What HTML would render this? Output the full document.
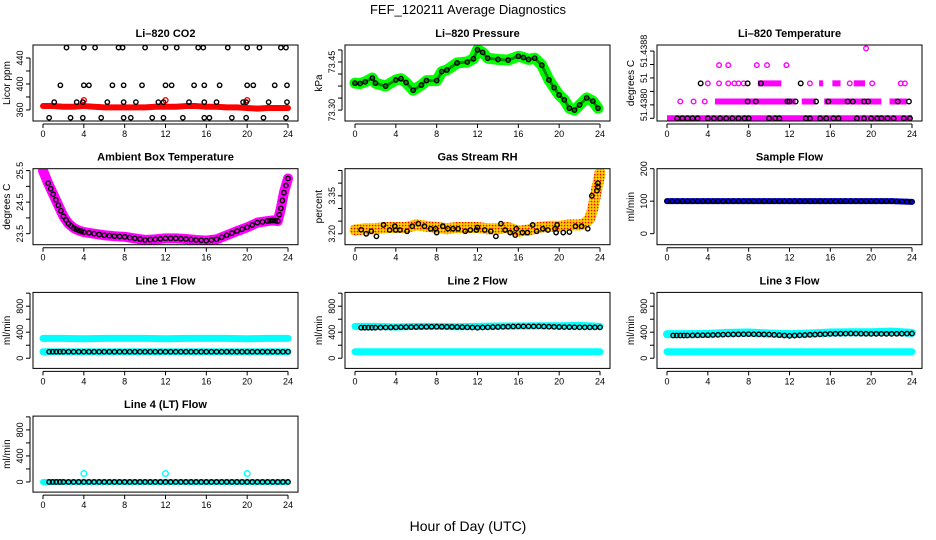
<!DOCTYPE html>
<html><head><meta charset="utf-8">
<style>
html,body{margin:0;padding:0;background:#fff}
svg{display:block;font-family:"Liberation Sans",sans-serif}
</style></head>
<body>
<svg id="chart" width="936" height="540" viewBox="0 0 936 540" xmlns="http://www.w3.org/2000/svg">
<text x="468" y="14" text-anchor="middle" font-size="13">FEF_120211  Average Diagnostics</text>
<text x="468" y="531" text-anchor="middle" font-size="14">Hour of Day (UTC)</text>
</svg>
<script>
const xTicks=[0,4,8,12,16,20,24];
// CO2
const co2Hours=[0,1,2,3,4,5,6,7,8,9,10,11,12,13,14,15,16,17,18,19,20,21,22,23,24];
const co2Red=[366,366,365,365,366,365,364,364,364,364,364,365,365,365,366,366,365,365,364,364,363,362,363,363,363];
const co2RedOut=[[4,375],[12,375],[20,375]];
const co2Black=[[2.3,456],[4,456],[5.1,456],[7.4,456],[7.8,456],[10,456],[12,456],[13.1,456],[15.2,456],[15.7,456],[18.1,456],[20,456],[21.2,456],[23.3,456],[23.8,456],
[1.7,398],[4,398],[4.5,398],[6.8,398],[7.9,398],[9.7,398],[12,398],[12.6,398],[14.8,398],[15.8,398],[17.3,398],[20,398],[20.6,398],[22.7,398],[23.9,398],
[1.1,372],[3.3,372],[3.9,372],[6.3,372],[7.9,372],[9.1,372],[11.3,372],[11.8,372],[14.3,372],[15.8,372],[17,372],[19.6,372],[19.9,372],[22.1,372],[23.9,372],
[0.6,348],[2.7,348],[3.9,348],[5.7,348],[7.9,348],[8.6,348],[10.7,348],[11.8,348],[13.7,348],[15.8,348],[16.3,348],[18.5,348],[19.9,348],[21.6,348],[23.8,348]];
const co2Ticks=[360,380,400,420,440];
const co2Labels=["360","","400","","440"];
// Pressure
const presHours=[0,0.5,1,1.7,2,3,4,4.5,5,5.7,6.5,7,8,8.5,9,10,11,11.6,12,12.5,13,14,15,16,16.5,17,17.6,18.3,19,19.5,20,20.5,21,21.5,22,22.7,23.3,23.8];
const presVals=[73.384,73.383,73.388,73.400,73.384,73.375,73.394,73.398,73.386,73.362,73.378,73.392,73.392,73.420,73.425,73.447,73.450,73.460,73.488,73.480,73.462,73.458,73.456,73.468,73.464,73.458,73.462,73.440,73.394,73.370,73.347,73.332,73.306,73.300,73.316,73.338,73.328,73.306];
const presTicks=[73.30,73.3375,73.375,73.4125,73.45,73.4875];
const presLabels=["73.30","","","","73.45",""];
// Li-820 temperature
const tLevels=[51.4378,51.43805,51.43832,51.43859,51.43884];
const tSegs=[[0,24,0],[4.7,12.6,1],[13.2,14.6,1],[15.4,21,1],[21.8,23.5,1],[8.9,11.2,2],[14.9,15.3,2],[16.2,17,2],[18.3,19.4,2]];
const tMag=[[1.3,1],[2.6,1],[3.7,1],[4,2],[5.1,2],[6,2],[6.6,2],[7,2],[7.5,2],[14,2],[17.9,2],[20.1,2],[22.9,2],[23.3,2],[5.1,3],[6,3],[8.8,3],[9.8,3],[11.7,3],[19.5,4]];
const tBlack=[[1,0],[1.5,0],[2,0],[2.5,0],[3,0],[4,0],[4.6,0],[5.2,0],[5.8,0],[6.4,0],[7,0],[7.6,0],[8,0],[10,0],[10.6,0],[11,0],[13.6,0],[14,0],[15,0],[15.6,0],[16.3,0],[16.8,0],[18.6,0],[19.3,0],[20,0],[20.6,0],[21,0],[21.6,0],[22.2,0],[23.2,0],[23.8,0],
[7.9,1],[8.7,1],[11.8,1],[12,1],[12.6,1],[14.6,1],[15.8,1],[17.7,1],[18.2,1],[19.3,1],[19.7,1],[22.6,1],[23.7,1],[3.3,2],[7.9,2],[9.2,2],[13.1,2]];
const tTicks=[51.4378,51.4380,51.4382,51.4384,51.4386,51.4388];
const tLabels=["","51.4380","","51","","51.4388"];
// Ambient box temp
const ambHours=[0,0.5,1,1.5,2,2.5,3,3.5,4,5,6,7,8,9,10,11,12,13,14,15,16,17,18,19,20,21,22,22.5,23,23.3,23.6,24];
const ambVals=[25.5,25.1,24.75,24.4,24.05,23.82,23.68,23.6,23.55,23.5,23.45,23.42,23.4,23.35,23.3,23.32,23.35,23.35,23.33,23.3,23.28,23.32,23.45,23.58,23.7,23.85,23.9,23.92,23.9,24.3,24.8,25.25];
const ambTicks=[23.5,24,24.5,25,25.5];
const ambLabels=["23.5","","24.5","","25.5"];
// Gas stream RH
const rhHours=[0,1,2,3,4,5,6,7,8,9,10,11,12,13,14,15,16,17,18,19,20,21,22,22.5,23,23.3,23.6,24];
const rhVals=[3.215,3.22,3.22,3.225,3.225,3.225,3.235,3.23,3.225,3.22,3.225,3.225,3.225,3.22,3.22,3.225,3.21,3.215,3.225,3.23,3.23,3.235,3.235,3.24,3.26,3.30,3.36,3.44];
const rhBlack=[[0.6,3.216],[1.1,3.20],[1.6,3.21],[2.1,3.19],[2.8,3.235],[3.4,3.215],[3.9,3.23],[4,3.215],[4.4,3.215],[5.1,3.21],[5.6,3.23],[6.2,3.24],[6.8,3.23],[7.4,3.22],[7.9,3.22],[8,3.205],[8.6,3.23],[9.1,3.22],[9.6,3.22],[10.1,3.22],[10.8,3.21],[11.3,3.215],[11.9,3.215],[12,3.225],[12.7,3.215],[13.3,3.21],[13.8,3.19],[14.3,3.24],[14.7,3.215],[15.2,3.205],[15.7,3.195],[15.8,3.22],[16.4,3.205],[16.9,3.205],[17.4,3.235],[17.8,3.21],[18.4,3.22],[18.9,3.215],[19.6,3.22],[19.7,3.205],[19.8,3.235],[20.4,3.205],[21,3.207],[21.6,3.23],[22.2,3.23],[22.8,3.22],[23.2,3.35],[23.7,3.37],[23.8,3.385],[23.8,3.40]];
const rhTicks=[3.20,3.25,3.30,3.35,3.40,3.45];
const rhLabels=["3.20","","","3.35","",""];
// Flows
const flowHours=[0,2,4,6,8,10,12,14,16,18,20,22,24];
const sampleFlow=[100,100,100,100,100,100,100,100,100,100,100,100,98];
const flowTicks=[0,200,400,600,800,1000];
const flowLabels=["0","","400","","800",""];
const sfTicks=[0,100,200];
const sfLabels=["0","100","200"];
const l1Cyan=[305,305,300,305,305,305,300,305,305,305,300,305,305];
const l1Black=[100,100,100,100,100,100,100,100,100,100,100,100,100];
const l2CyanHi=[490,490,480,490,490,485,490,495,495,500,500,505,490];
const l2Black=[470,470,475,480,485,480,470,480,490,490,480,475,475];
const l2CyanLo=[100,100,100,100,100,100,100,100,100,100,100,100,100];
const l3CyanHi=[370,370,375,390,395,380,370,380,395,400,400,410,390];
const l3Black=[350,350,355,365,370,365,345,360,375,380,375,375,380];
const l3CyanLo=[100,100,100,100,100,100,100,100,100,100,100,100,100];
const l4Black=[0,0,0,0,0,0,0,0,0,0,0,0,0];
const l4Spikes=[[4,130],[12,130],[20,130]];

const NS="http://www.w3.org/2000/svg";
const svg=document.getElementById('chart');
function mk(tag,at,parent){const e=document.createElementNS(NS,tag);for(const k in at)e.setAttribute(k,at[k]);(parent||svg).appendChild(e);return e;}

function panel(col,row,title,ylab,dom,ticks,labels,name){
  const bx=33+312*col, by=45+123.7*row, bw=265, bh=76;
  const g=mk('g',{});
  
  
  const x=h=>bx+10+h*245/24;
  const y=v=>by+bh-(v-dom[0])/(dom[1]-dom[0])*bh;
  const cp='clip'+col+row;
  const cl=mk('clipPath',{id:cp},g);mk('rect',{x:bx,y:by,width:bw,height:bh},cl);
  const plot=mk('g',{'clip-path':'url(#'+cp+')'},g);
  
  
  const t=mk('text',{x:bx+bw/2,y:by-8,'text-anchor':'middle','font-size':11,'font-weight':'bold'},g);t.textContent=title;
  
  
  const yl=mk('text',{x:0,y:0,transform:`translate(${bx-23},${by+bh/2}) rotate(-90)`,'text-anchor':'middle','font-size':10},g);yl.textContent=ylab;
  
  
  const xa=mk('g',{},g);
  
  
  mk('line',{x1:x(0),x2:x(24),y1:by+bh+3,y2:by+bh+3,stroke:'#000','stroke-width':1},xa);
  xTicks.forEach(v=>{mk('line',{x1:x(v),x2:x(v),y1:by+bh+3,y2:by+bh+7,stroke:'#000'},xa);
    const tt=mk('text',{x:x(v),y:by+bh+16,'text-anchor':'middle','font-size':9},xa);tt.textContent=v;});
  const ya=mk('g',{},g);
  
  
  const yt=ticks.filter(v=>v>=dom[0]&&v<=dom[1]);
  mk('line',{x1:bx-3,x2:bx-3,y1:y(yt[0]),y2:y(yt[yt.length-1]),stroke:'#000'},ya);
  ticks.forEach((v,i)=>{if(v<dom[0]||v>dom[1])return;mk('line',{x1:bx-3,x2:bx-7,y1:y(v),y2:y(v),stroke:'#000'},ya);
    if(labels[i]){const tt=mk('text',{x:0,y:0,transform:`translate(${bx-10},${y(v)}) rotate(-90)`,'text-anchor':'middle','font-size':9},ya);tt.textContent=labels[i];}});
  return {x,y,plot,g,box:[bx,by,bw,bh]};
}
function finish(p,name){const r=mk('rect',{x:p.box[0],y:p.box[1],width:p.box[2],height:p.box[3],fill:'none',stroke:'#000','stroke-width':1},p.g);
  
  }
function pts(p,arr,color,r,name){arr.forEach(d=>{const c=mk('circle',{cx:p.x(d[0]),cy:p.y(d[1]),r:r||2.2,fill:'none',stroke:color,'stroke-width':1.4},p.plot);
  
  });}
function line(p,hours,vals,color,w,name){const l=mk('polyline',{points:hours.map((h,i)=>p.x(h)+','+p.y(vals[i])).join(' '),fill:'none',stroke:color,'stroke-width':w,'stroke-linejoin':'round','stroke-linecap':'round'},p.plot);
  
  return l;}
function dots(p,hours,vals,color,step,name){for(let i=0;i<hours.length;i++){pts(p,[[hours[i],vals[i]]],color,2.2,name);
  if(i<hours.length-1&&step){const n=step;for(let k=1;k<n;k++){const h=hours[i]+(hours[i+1]-hours[i])*k/n,v=vals[i]+(vals[i+1]-vals[i])*k/n;pts(p,[[h,v]],color,2.2,name);}}}}

// Panel 1 CO2
let p=panel(0,0,'Li\u2013820 CO2','Licor ppm',[343,460],co2Ticks,co2Labels,'co2');
line(p,co2Hours,co2Red,'#ff0000',6,'co2-red-series');
pts(p,co2RedOut,'#ff0000',2.5,'co2-red-point');
pts(p,co2Black,'#000',2.2,'co2-black-point');
finish(p,'co2');
// Panel 2 pressure
p=panel(1,0,'Li\u2013820 Pressure','kPa',[73.266,73.503],presTicks,presLabels,'pressure');
line(p,presHours,presVals,'#00ff00',11,'pressure-green-series');
line(p,presHours,presVals,'#008800',3,'pressure-green-core').setAttribute('stroke-dasharray','1 2');
dots(p,presHours,presVals,'#000',1,'pressure-black-point');
finish(p,'pressure');
// Panel 3 temp
p=panel(2,0,'Li\u2013820 Temperature','degrees C',[51.43776,51.43889],tTicks,tLabels,'li820-temp');
tSegs.forEach(s=>{const l=mk('line',{x1:p.x(s[0]),x2:p.x(s[1]),y1:p.y(tLevels[s[2]]),y2:p.y(tLevels[s[2]]),stroke:'#ff00ff','stroke-width':6},p.plot);
  
  });
pts(p,tMag.map(d=>[d[0],tLevels[d[1]]]),'#ff00ff',2.3,'temp-magenta-point');
pts(p,tBlack.map(d=>[d[0],tLevels[d[1]]]),'#000',2.3,'temp-black-point');
finish(p,'li820-temp');
// Panel 4 ambient
p=panel(0,1,'Ambient Box Temperature','degrees C',[23.15,25.56],ambTicks,ambLabels,'ambient');
line(p,ambHours,ambVals,'#ff00ff',10,'ambient-magenta-series');
dots(p,ambHours.slice(1),ambVals.slice(1),'#000',2,'ambient-black-point');
finish(p,'ambient');
// Panel 5 RH
p=panel(1,1,'Gas Stream RH','percent',[3.157,3.457],rhTicks,rhLabels,'rh');
const defs=mk('defs',{});
const pat=mk('pattern',{id:'rhpat',width:3,height:3,patternUnits:'userSpaceOnUse'},defs);
mk('rect',{width:3,height:3,fill:'#ffb000'},pat);mk('rect',{width:1.2,height:1.2,fill:'#ff0000'},pat);mk('rect',{x:1.5,y:1.5,width:1.2,height:1.2,fill:'#ffff00'},pat);
line(p,rhHours,rhVals,'url(#rhpat)',11,'rh-pattern-series');
pts(p,rhBlack,'#000',2.2,'rh-black-point');
finish(p,'rh');
// Panel 6 sample flow
p=panel(2,1,'Sample Flow','ml/min',[-34,200],sfTicks,sfLabels,'sample-flow');
line(p,flowHours,sampleFlow,'#0000ff',6,'sample-flow-blue-series');
dots(p,flowHours,sampleFlow,'#000',4,'sample-flow-black-point');
finish(p,'sample-flow');
// Line 1
p=panel(0,2,'Line 1 Flow','ml/min',[-156,1012],flowTicks,flowLabels,'line1');
line(p,flowHours,l1Cyan,'#00ffff',7,'line1-cyan-high');
line(p,flowHours,l1Black,'#00ffff',7,'line1-cyan-low');
dots(p,flowHours.map(h=>Math.max(0.6,h)),l1Black,'#000',4,'line1-black-point');
finish(p,'line1');
// Line 2
p=panel(1,2,'Line 2 Flow','ml/min',[-156,1012],flowTicks,flowLabels,'line2');
line(p,flowHours,l2CyanHi,'#00ffff',7,'line2-cyan-high');
line(p,flowHours,l2CyanLo,'#00ffff',7,'line2-cyan-low');
dots(p,flowHours.map(h=>Math.max(0.6,h)),l2Black,'#000',4,'line2-black-point');
finish(p,'line2');
// Line 3
p=panel(2,2,'Line 3 Flow','ml/min',[-156,1012],flowTicks,flowLabels,'line3');
line(p,flowHours,l3CyanHi,'#00ffff',8,'line3-cyan-high');
line(p,flowHours,l3CyanLo,'#00ffff',7,'line3-cyan-low');
dots(p,flowHours.map(h=>Math.max(0.6,h)),l3Black,'#000',4,'line3-black-point');
finish(p,'line3');
// Line 4
p=panel(0,3,'Line 4 (LT) Flow','ml/min',[-156,1012],flowTicks,flowLabels,'line4');
line(p,flowHours,l4Black,'#00ffff',6,'line4-cyan-series');
pts(p,l4Spikes,'#00ffff',2.8,'line4-cyan-spike');
dots(p,flowHours.map(h=>Math.max(0.6,h)),l4Black,'#000',4,'line4-black-point');
finish(p,'line4');
</script>
</body></html>
